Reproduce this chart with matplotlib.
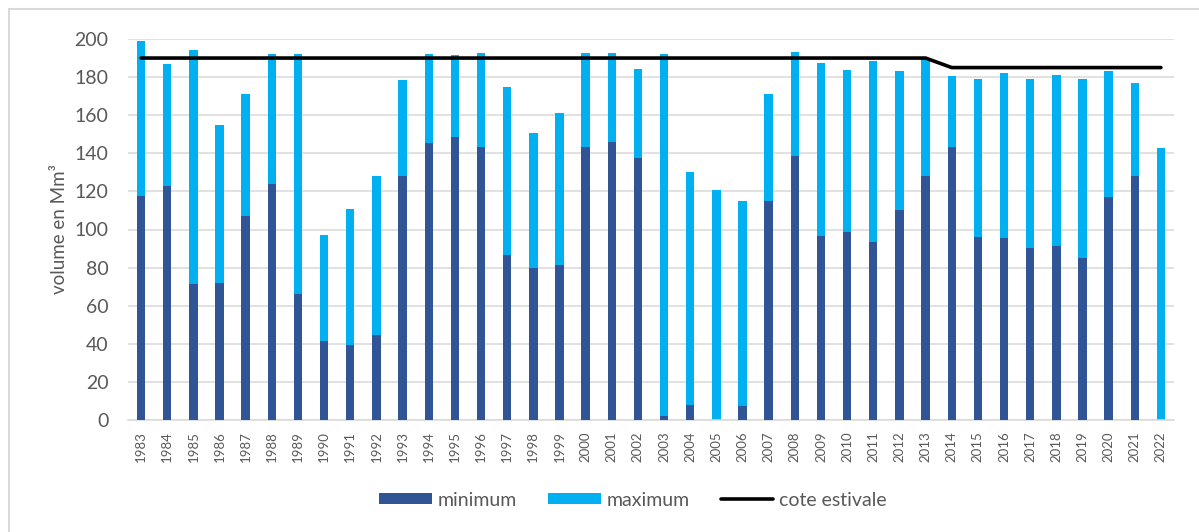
import numpy as np
import matplotlib.pyplot as plt
from matplotlib.patches import Rectangle

plt.rcParams['font.family'] = ['Lato', 'DejaVu Sans']

years = [str(y) for y in range(1983, 2023)]
minimum = [117.8, 123.0, 71.6, 72.1, 107.1, 124.1, 66.3, 41.6, 39.5, 44.8,
           128.1, 145.6, 148.7, 143.5, 86.4, 80.0, 81.5, 143.5, 146.1, 137.4,
           2.1, 7.9, 0.0, 7.5, 115.1, 138.7, 96.8, 98.9, 93.6, 110.4,
           128.3, 143.5, 96.2, 95.7, 90.5, 91.5, 85.2, 117.2, 128.3, 0.0]
maximum = [198.8, 186.7, 194.4, 154.7, 171.0, 192.3, 192.0, 97.1, 110.6, 127.9,
           178.3, 192.0, 191.4, 192.8, 174.6, 150.5, 161.0, 192.8, 192.8, 184.1,
           192.0, 130.0, 120.6, 115.1, 171.1, 193.0, 187.4, 183.7, 188.5, 183.0,
           189.3, 180.6, 178.8, 182.2, 178.8, 181.1, 179.0, 183.2, 176.7, 142.8]
cote_estivale = [190] * 31 + [185] * 9

dark_blue = '#2F5597'
light_blue = '#00B0F0'
grey_txt = '#595959'

fig = plt.figure(figsize=(11.99, 5.32), dpi=100)
ax = fig.add_axes([128 / 1199, 1 - 420 / 532, (1174 - 128) / 1199, (420 - 39) / 532])

x = np.arange(len(years))
w = 0.32
ax.bar(x, maximum, width=w, color=light_blue, zorder=2, label='maximum')
ax.bar(x, minimum, width=w, color=dark_blue, zorder=3, label='minimum')
ax.plot(x, cote_estivale, color='black', linewidth=2.6, zorder=4,
        solid_capstyle='round', label='cote estivale')

ax.set_xlim(-0.5, len(years) - 0.5)
ax.set_ylim(0, 200)
ax.set_yticks(range(0, 201, 20))
ax.set_xticks(x)
ax.set_xticklabels(years, rotation=90)
ax.tick_params(axis='x', length=0, pad=8, labelsize=9.5, colors=grey_txt)
ax.tick_params(axis='y', length=0, pad=14, labelsize=14, colors=grey_txt)
ax.grid(axis='y', color='#D9D9D9', linewidth=1.1, zorder=0)
ax.set_axisbelow(True)
for s in ['top', 'right', 'left']:
    ax.spines[s].set_visible(False)
ax.spines['bottom'].set_color('#D9D9D9')
ax.spines['bottom'].set_linewidth(1.1)

ax.set_ylabel('volume en Mm³', fontsize=13.5, color=grey_txt, labelpad=5)

handles, labels = ax.get_legend_handles_labels()
order = [labels.index('minimum'), labels.index('maximum'), labels.index('cote estivale')]
fig.legend([handles[i] for i in order], [labels[i] for i in order],
           loc='center', bbox_to_anchor=(0.528, 1 - 500 / 532), ncol=3,
           frameon=False, fontsize=14, handlelength=2.7, handleheight=0.5,
           handletextpad=0.3, columnspacing=1.6, labelcolor=grey_txt)

# cadre gris du graphique
fig.patches.append(Rectangle((9 / 1199, -0.1), 1.2, 1 - 9 / 532 + 0.1,
                             transform=fig.transFigure, fill=False,
                             edgecolor='#D9D9D9', linewidth=1.5))

fig.savefig('out.png', dpi=100)
